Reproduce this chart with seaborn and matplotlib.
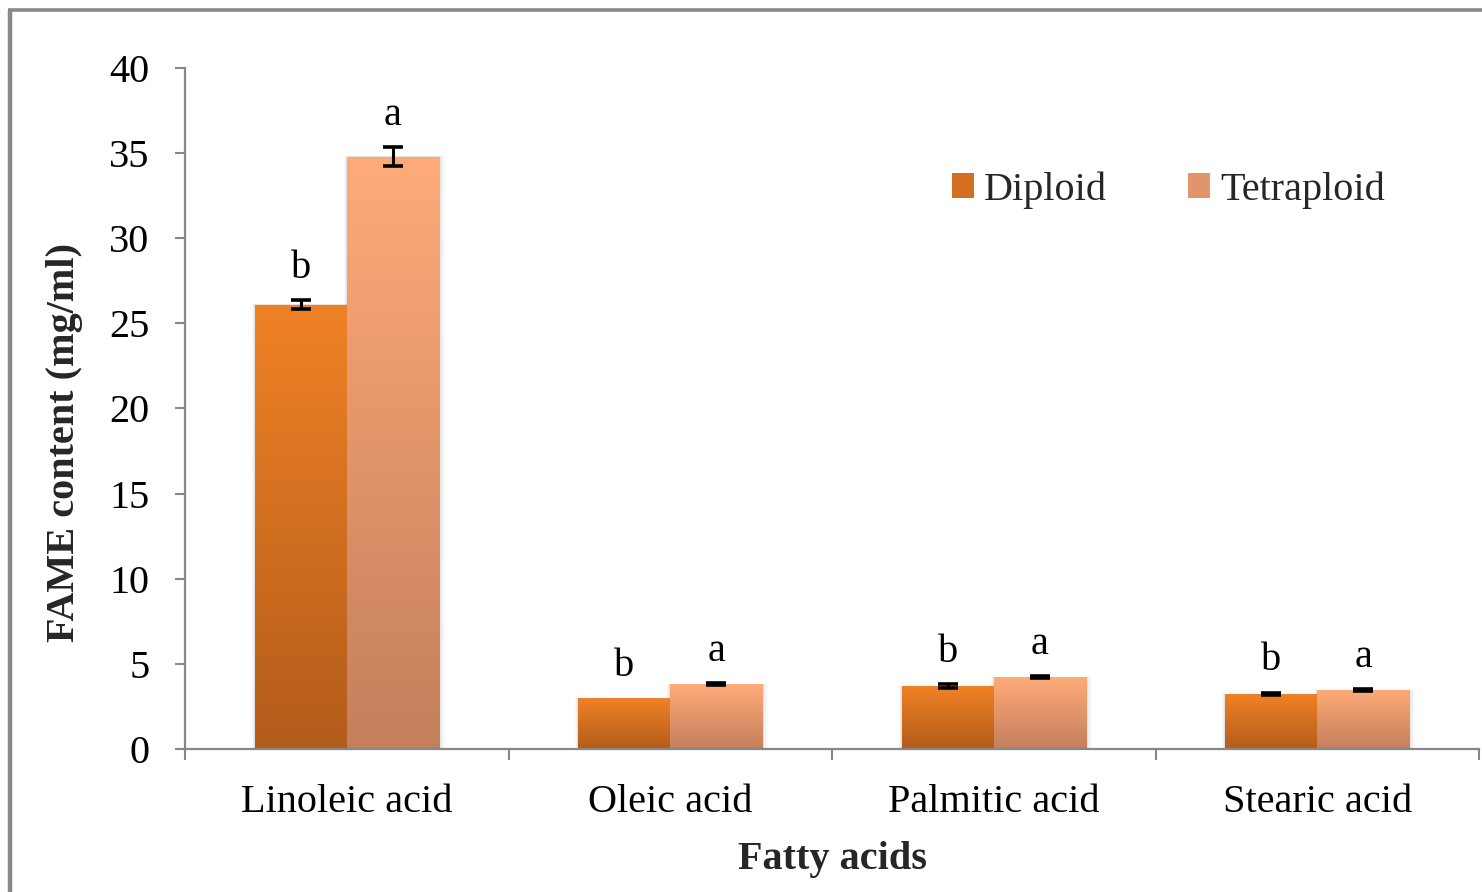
import numpy as np
import pandas as pd
import matplotlib
matplotlib.use("Agg")
import matplotlib.pyplot as plt
import seaborn as sns
from matplotlib.patches import Patch
from matplotlib.lines import Line2D
from matplotlib.colors import LinearSegmentedColormap

# Fatty acid methyl ester content by ploidy level
acids = ["Linoleic acid", "Oleic acid", "Palmitic acid", "Stearic acid"]
groups = ["Diploid", "Tetraploid"]
diploid = [26.1, 3.0, 3.7, 3.23]
tetraploid = [34.8, 3.8, 4.22, 3.46]
diploid_err = [0.25, 0.0, 0.1, 0.08]
tetraploid_err = [0.55, 0.06, 0.06, 0.06]
diploid_letters = ["b", "b", "b", "b"]
tetraploid_letters = ["a", "a", "a", "a"]

# gradient end colours per group: (bottom, top)
grad_colors = {"Diploid": ("#b35c1a", "#f08226"),
               "Tetraploid": ("#c47f5b", "#ffab79")}

sns.set_theme(style="white")
plt.rcParams["font.family"] = ["Liberation Serif", "DejaVu Serif"]

df = pd.DataFrame({
    "acid": acids * 2,
    "ploidy": ["Diploid"] * len(acids) + ["Tetraploid"] * len(acids),
    "fame": diploid + tetraploid,
})

W, H = 1482, 892
fig = plt.figure(figsize=(W / 100, H / 100), dpi=100)
ax = fig.add_axes([185 / W, 1 - 749 / H, (1479 - 185) / W, (749 - 68) / H])

sns.barplot(data=df, x="acid", y="fame", hue="ploidy", order=acids,
            hue_order=groups, width=0.57, gap=0, errorbar=None,
            palette=[grad_colors[g][1] for g in groups], legend=False,
            ax=ax, zorder=2)

grad = np.linspace(0, 1, 256).reshape(-1, 1)
errs = {"Diploid": diploid_err, "Tetraploid": tetraploid_err}
vals = {"Diploid": diploid, "Tetraploid": tetraploid}
letters = {"Diploid": diploid_letters, "Tetraploid": tetraploid_letters}

for g, cont in zip(groups, ax.containers):
    cmap = LinearSegmentedColormap.from_list(g, grad_colors[g])
    for i, bar in enumerate(cont):
        x0, w, h = bar.get_x(), bar.get_width(), bar.get_height()
        # faint soft shadow around each bar
        for k, a in ((0.030, 0.025), (0.020, 0.035), (0.010, 0.05)):
            ax.add_patch(plt.Rectangle((x0 - k * 0.3, 0), w + k * 0.9,
                                       h + k * 1.2, facecolor="black",
                                       alpha=a, edgecolor="none",
                                       zorder=1.5))
        im = ax.imshow(grad, extent=[x0, x0 + w, 0, h], origin="lower",
                       aspect="auto", cmap=cmap, zorder=2.5,
                       interpolation="bilinear")
        im.set_clip_path(bar)
        bar.set_facecolor("none")
        bar.set_edgecolor("none")
        xc = x0 + w / 2
        v, e = vals[g][i], errs[g][i]
        if e > 0:
            ax.errorbar(xc, v, yerr=e, fmt="none", ecolor="black",
                        elinewidth=2.2, capsize=7, capthick=2.6, zorder=4)
        ax.annotate(letters[g][i], (xc, v + e), xytext=(0, 16),
                    textcoords="offset points", ha="center", va="baseline",
                    fontsize=29, color="black", zorder=5)

ax.set_xlim(-0.5, len(acids) - 0.5)
ax.set_ylim(0, 40)
ax.set_yticks(range(0, 41, 5))
ax.set_xticks(range(len(acids)))
ax.set_xticklabels(acids)
ax.set_xticks(np.arange(-0.5, len(acids), 1.0), minor=True)
ax.set_xlabel("")
ax.set_ylabel("")

axis_gray = "#878787"
for side in ("top", "right"):
    ax.spines[side].set_visible(False)
for side in ("left", "bottom"):
    ax.spines[side].set_color(axis_gray)
    ax.spines[side].set_linewidth(1.6)
    ax.spines[side].set_zorder(3)

ax.tick_params(axis="x", which="major", length=0, pad=25, labelsize=29,
               labelcolor="black")
ax.tick_params(axis="x", which="minor", length=8, width=1.5,
               color=axis_gray, direction="out", bottom=True)
ax.tick_params(axis="y", length=7.5, width=1.5, color=axis_gray,
               direction="out", left=True, pad=18, labelsize=29,
               labelcolor="black")

fig.text(65 / W, 1 - 443 / H, "FAME content (mg/ml)", rotation=90,
         ha="center", va="center", fontsize=29, fontweight="bold")
fig.text(833 / W, 1 - 859 / H, "Fatty acids", ha="center", va="center",
         fontsize=29, fontweight="bold")

handles = [Patch(facecolor=sns.blend_palette(grad_colors[g], 3)[1],
                 edgecolor="none") for g in groups]
ax.legend(handles, groups, loc="center left",
          bbox_to_anchor=(952 / W, 1 - 190 / H), bbox_transform=fig.transFigure,
          ncol=2, frameon=False, fontsize=29, handlelength=0.55,
          handleheight=0.55, handletextpad=0.25, columnspacing=2.0,
          borderpad=0, borderaxespad=0)

# outer chart frame
fig.add_artist(Line2D([10 / W, 10 / W], [0, 1 - 9.5 / H], transform=fig.transFigure,
                      color="#898989", lw=3.2, solid_capstyle="butt"))
fig.add_artist(Line2D([8 / W, 1], [1 - 9.5 / H, 1 - 9.5 / H], transform=fig.transFigure,
                      color="#898989", lw=2.6, solid_capstyle="butt"))

fig.savefig("out.png", dpi=100, facecolor="white")
